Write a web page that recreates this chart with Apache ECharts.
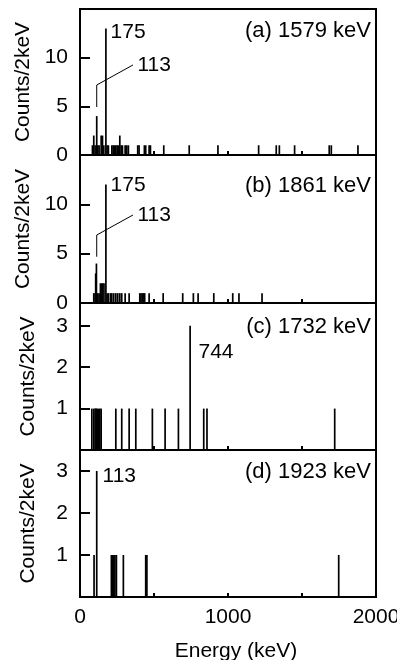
<!DOCTYPE html>
<html>
<head>
<meta charset="utf-8">
<script src="https://cdn.jsdelivr.net/npm/echarts@6/dist/echarts.min.js"></script>
<style>
  html, body { margin: 0; padding: 0; background: #fff; }
  #chart { width: 397px; height: 660px; }
</style>
</head>
<body>
<div id="chart"></div>
<script>
// [energy keV, counts per 2 keV]
const spectrumA = [
  [84, 1], [93, 2], [102, 1], [113, 4], [120, 1], [129, 1], [143, 2], [152, 2], [161, 1],
  [175, 13], [183, 1], [192, 1], [215, 1], [224, 1], [233, 1], [242, 1], [251, 1], [260, 1],
  [269, 2], [278, 1], [287, 1], [305, 1], [316, 1], [327, 1], [390, 1], [399, 1], [435, 1],
  [444, 1], [467, 1], [476, 1], [566, 1], [738, 1], [932, 1], [1207, 1], [1326, 1],
  [1347, 1], [1450, 1], [1684, 1], [1698, 1], [1878, 1]
];
const spectrumB = [
  [93, 1], [102, 1], [106, 3], [111, 4], [120, 1], [129, 1], [138, 2], [146, 2], [154, 2],
  [162, 2], [175, 12], [183, 1], [192, 1], [206, 1], [215, 1], [228, 1], [242, 1], [255, 1],
  [269, 1], [282, 1], [305, 1], [332, 1], [404, 1], [412, 1], [420, 1], [428, 1], [437, 1],
  [467, 1], [562, 1], [694, 1], [766, 1], [798, 1], [904, 1], [1032, 1], [1074, 1], [1230, 1]
];
const spectrumC = [
  [80, 1], [93, 1], [102, 1], [109, 1], [116, 1], [125, 1], [134, 1], [143, 1], [242, 1],
  [282, 1], [332, 1], [377, 1], [489, 1], [575, 1], [665, 1], [744, 3], [836, 1], [858, 1],
  [1721, 1]
];
const spectrumD = [
  [95, 1], [113, 3], [212, 1], [220, 1], [228, 1], [236, 1], [246, 1], [293, 1], [444, 1],
  [452, 1], [1748, 1]
];

const panelTags = ['(a) 1579 keV', '(b) 1861 keV', '(c) 1732 keV', '(d) 1923 keV'];
const yMax = [15, 15, 3.55, 3.5];
const yStep = [5, 5, 1, 1];

// peak labels: [energy, counts, text]
const peakLabelsA = [[203, 12.6, '175'], [385, 9.25, '113']];
const peakLabelsB = [[203, 11.96, '175'], [385, 8.92, '113']];
const peakLabelsC = [[797, 2.36, '744']];
const peakLabelsD = [[149, 2.88, '113']];
// leader line from the 113 peak to its label
const leaderA = [[113, 4.93], [113, 7.19], [358, 9.25]];
const leaderB = [[113, 4.69], [113, 6.89], [358, 8.92]];

const FONT = 'Liberation Sans';
const spectra = [spectrumA, spectrumB, spectrumC, spectrumD];
const peakLabels = [peakLabelsA, peakLabelsB, peakLabelsC, peakLabelsD];
const leaders = [leaderA, leaderB, null, null];
const gridTops = [9, 155, 303, 450];
const gridHeights = [146, 148, 147, 147];

const chart = echarts.init(document.getElementById('chart'));

const grids = gridTops.map((top, i) => ({
  left: 80, right: 21, top: top, height: gridHeights[i],
  outerBoundsMode: 'none', containLabel: false,
  show: true, borderColor: '#000', borderWidth: 2, backgroundColor: 'transparent'
}));

const xAxes = gridTops.map((_, i) => ({
  type: 'value', gridIndex: i, min: 0, max: 2000, interval: 500,
  axisLine: { show: true, lineStyle: { color: '#000', width: 2 } },
  axisTick: { show: true, inside: true, length: 4, lineStyle: { color: '#000', width: 2 } },
  splitLine: { show: false },
  axisLabel: {
    show: i === 3, margin: 10, color: '#000', fontFamily: FONT, fontSize: 21,
    formatter: (v) => (v % 1000 === 0 ? String(v) : '')
  },
  name: i === 3 ? 'Energy (keV)' : '',
  nameLocation: 'middle', nameGap: 44,
  nameTextStyle: { color: '#000', fontFamily: FONT, fontSize: 21, padding: [0, 0, 0, 16] }
}));

const yAxes = gridTops.map((_, i) => ({
  type: 'value', gridIndex: i, min: 0, max: yMax[i], interval: yStep[i],
  axisLine: { show: true, lineStyle: { color: '#000', width: 2 } },
  axisTick: { show: true, inside: true, length: 10, lineStyle: { color: '#000', width: 2 } },
  splitLine: { show: false },
  axisLabel: {
    margin: 12, color: '#000', fontFamily: FONT, fontSize: 21,
    showMaxLabel: false, showMinLabel: i < 2
  },
  name: 'Counts/2keV', nameLocation: 'middle', nameRotate: 90, nameGap: 41,
  nameTextStyle: { color: '#000', fontFamily: FONT, fontSize: 21 }
}));

const series = [];
spectra.forEach((data, i) => {
  series.push({
    type: 'bar', xAxisIndex: i, yAxisIndex: i, data: data,
    barWidth: 1.7, itemStyle: { color: '#000' }, silent: true
  });
  series.push({
    type: 'scatter', xAxisIndex: i, yAxisIndex: i, symbolSize: 1,
    itemStyle: { color: 'rgba(0,0,0,0)', opacity: 1 },
    data: peakLabels[i].map((p) => ({ value: [p[0], p[1]], name: p[2] })),
    label: {
      show: true, position: 'right', distance: 0, formatter: '{b}',
      color: '#000', opacity: 1, textBorderWidth: 0, fontFamily: FONT, fontSize: 21
    },
    emphasis: { disabled: true },
    silent: true
  });
  if (leaders[i]) {
    series.push({
      type: 'line', xAxisIndex: i, yAxisIndex: i, data: leaders[i],
      symbol: 'none', lineStyle: { color: '#000', width: 1 }, silent: true
    });
  }
});

const titles = panelTags.map((t, i) => ({
  text: t, right: 26, top: [20, 175, 316, 461][i], padding: 0,
  textStyle: { color: '#000', fontFamily: FONT, fontSize: 22, fontWeight: 'normal' }
}));

chart.setOption({
  animation: false,
  backgroundColor: '#fff',
  title: titles,
  grid: grids,
  xAxis: xAxes,
  yAxis: yAxes,
  series: series
});
</script>
</body>
</html>
